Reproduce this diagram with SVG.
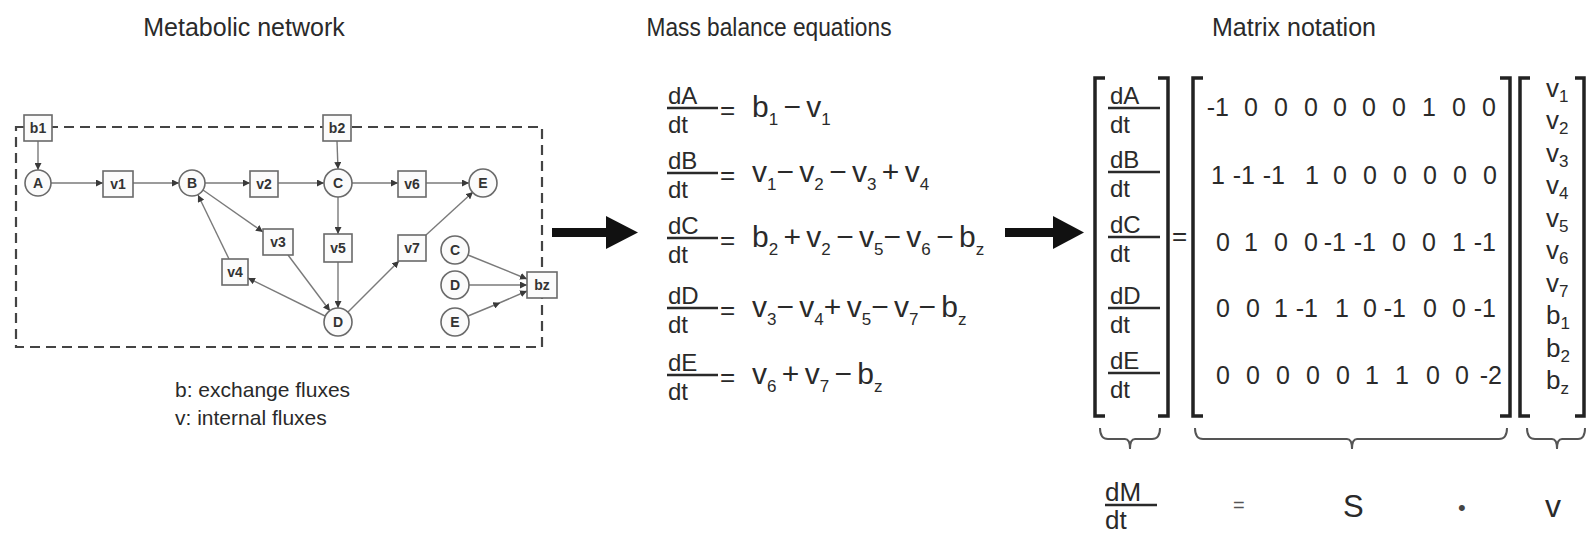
<svg xmlns="http://www.w3.org/2000/svg" width="1587" height="533" viewBox="0 0 1587 533">
<defs>
<style>
text{font-family:"Liberation Sans",Arial,sans-serif;fill:#2a2a2a}
.title{font-size:25px;text-anchor:middle}
.lbl{font-size:21px}
.nt{font-size:14px;font-weight:bold;text-anchor:middle;fill:#333}
.box{fill:#fbfbfb;stroke:#6a6a6a;stroke-width:1.6}
.circ{fill:#fbfbfb;stroke:#6a6a6a;stroke-width:1.6}
.edge{stroke:#7a7a7a;stroke-width:1.4;fill:none;marker-end:url(#ah)}
.frac{font-size:24px}
.bar{stroke:#2a2a2a;stroke-width:2.5}
.rhs{font-size:30px;word-spacing:-3px}
.sub{font-size:17px}
.eq{font-size:26px}
.m{font-size:25px;text-anchor:end}
.vv{font-size:26px}
.brk{fill:none;stroke:#222;stroke-width:3.5}
.brace{fill:none;stroke:#555;stroke-width:2}
.big{fill:#111}
</style>
<marker id="ah" viewBox="0 0 8 8" refX="8" refY="4" markerWidth="7" markerHeight="7" markerUnits="userSpaceOnUse" orient="auto">
<path d="M0,0 L8,4 L0,8 z" fill="#3a3a3a"/>
</marker>
<marker id="am" viewBox="0 0 8 8" refX="4" refY="4" markerWidth="7" markerHeight="7" markerUnits="userSpaceOnUse" orient="auto">
<path d="M0,0 L8,4 L0,8 z" fill="#3a3a3a"/>
</marker>
</defs>
<rect width="1587" height="533" fill="#ffffff"/>

<!-- titles -->
<text class="title" x="244" y="36">Metabolic network</text>
<text class="title" x="769" y="36" textLength="245" lengthAdjust="spacingAndGlyphs">Mass balance equations</text>
<text class="title" x="1294" y="36">Matrix notation</text>

<!-- network boundary -->
<rect x="16" y="127" width="526" height="220" fill="none" stroke="#444" stroke-width="2.2" stroke-dasharray="10 6"/>

<!-- connectors -->
<g id="connectors">
<line class="edge" x1="38" y1="141" x2="38" y2="170"/>
<line class="edge" x1="51" y1="183" x2="103" y2="183"/>
<line class="edge" x1="133" y1="183" x2="179" y2="183"/>
<line class="edge" x1="205" y1="183" x2="250" y2="183"/>
<line class="edge" x1="278" y1="183" x2="324" y2="183"/>
<line class="edge" x1="337" y1="141" x2="338" y2="169"/>
<line class="edge" x1="352" y1="183" x2="398" y2="183"/>
<line class="edge" x1="426" y1="183" x2="469" y2="183"/>
<line class="edge" x1="338" y1="197" x2="338" y2="234"/>
<line class="edge" x1="338" y1="262" x2="338" y2="308"/>
<line class="edge" x1="203" y1="190" x2="263" y2="232"/>
<line class="edge" x1="288" y1="255" x2="330" y2="311"/>
<line class="edge" x1="325" y1="316" x2="248" y2="278"/>
<line class="edge" x1="229" y1="259" x2="198" y2="195"/>
<line class="edge" x1="348" y1="312" x2="399" y2="261"/>
<line class="edge" x1="426" y1="235" x2="473" y2="192"/>
<line class="edge" x1="468" y1="255" x2="527" y2="279"/>
<line class="edge" x1="469" y1="285" x2="527" y2="285"/>
<polyline class="edge" points="468,316 497,304 527,291" style="marker-mid:url(#am)"/>
</g>

<!-- nodes -->
<g id="node-b1"><rect class="box" x="24" y="115" width="28" height="26"/><text class="nt" x="38" y="133">b1</text></g>
<g id="node-b2"><rect class="box" x="323" y="115" width="28" height="26"/><text class="nt" x="337" y="133">b2</text></g>
<g id="node-A"><circle class="circ" cx="38" cy="183" r="13"/><text class="nt" x="38" y="188">A</text></g>
<g id="node-v1"><rect class="box" x="103" y="171" width="30" height="26"/><text class="nt" x="118" y="189">v1</text></g>
<g id="node-B"><circle class="circ" cx="192" cy="183" r="13"/><text class="nt" x="192" y="188">B</text></g>
<g id="node-v2"><rect class="box" x="250" y="171" width="28" height="26"/><text class="nt" x="264" y="189">v2</text></g>
<g id="node-C"><circle class="circ" cx="338" cy="183" r="14"/><text class="nt" x="338" y="188">C</text></g>
<g id="node-v6"><rect class="box" x="398" y="171" width="28" height="26"/><text class="nt" x="412" y="189">v6</text></g>
<g id="node-E"><circle class="circ" cx="483" cy="183" r="14"/><text class="nt" x="483" y="188">E</text></g>
<g id="node-v3"><rect class="box" x="263" y="229" width="30" height="26"/><text class="nt" x="278" y="247">v3</text></g>
<g id="node-v4"><rect class="box" x="222" y="259" width="26" height="26"/><text class="nt" x="235" y="277">v4</text></g>
<g id="node-v5"><rect class="box" x="324" y="234" width="28" height="28"/><text class="nt" x="338" y="253">v5</text></g>
<g id="node-v7"><rect class="box" x="398" y="235" width="28" height="26"/><text class="nt" x="412" y="253">v7</text></g>
<g id="node-D"><circle class="circ" cx="338" cy="322" r="14"/><text class="nt" x="338" y="327">D</text></g>
<g id="node-C2"><circle class="circ" cx="455" cy="250" r="14"/><text class="nt" x="455" y="255">C</text></g>
<g id="node-D2"><circle class="circ" cx="455" cy="285" r="14"/><text class="nt" x="455" y="290">D</text></g>
<g id="node-E2"><circle class="circ" cx="455" cy="322" r="14"/><text class="nt" x="455" y="327">E</text></g>
<g id="node-bz"><rect class="box" x="527" y="272" width="30" height="26"/><text class="nt" x="542" y="290">bz</text></g>

<text class="lbl" x="175" y="397">b: exchange fluxes</text>
<text class="lbl" x="175" y="425">v: internal fluxes</text>

<!-- big arrows -->
<g id="arrow1"><rect class="big" x="552" y="228" width="58" height="9"/><polygon class="big" points="606,216 638,232.5 606,249"/></g>
<g id="arrow2"><rect class="big" x="1005" y="228" width="52" height="9"/><polygon class="big" points="1053,216 1084,232.5 1053,249"/></g>

<!-- equations -->
<g id="equations">
<g id="eqA"><text class="frac" x="668" y="104">dA</text><line class="bar" x1="667" y1="108" x2="718" y2="108"/><text class="frac" x="668" y="133">dt</text>
<text class="eq" x="720" y="119">=</text>
<text class="rhs" x="752" y="117">b<tspan class="sub" dy="8">1</tspan><tspan dy="-8"> − v</tspan><tspan class="sub" dy="8">1</tspan></text></g>
<g id="eqB"><text class="frac" x="668" y="169">dB</text><line class="bar" x1="667" y1="173" x2="718" y2="173"/><text class="frac" x="668" y="198">dt</text>
<text class="eq" x="720" y="184">=</text>
<text class="rhs" x="752" y="182">v<tspan class="sub" dy="8">1</tspan><tspan dy="-8">− v</tspan><tspan class="sub" dy="8">2</tspan><tspan dy="-8"> − v</tspan><tspan class="sub" dy="8">3</tspan><tspan dy="-8"> + v</tspan><tspan class="sub" dy="8">4</tspan></text></g>
<g id="eqC"><text class="frac" x="668" y="234">dC</text><line class="bar" x1="667" y1="238" x2="718" y2="238"/><text class="frac" x="668" y="263">dt</text>
<text class="eq" x="720" y="249">=</text>
<text class="rhs" x="752" y="247">b<tspan class="sub" dy="8">2</tspan><tspan dy="-8"> + v</tspan><tspan class="sub" dy="8">2</tspan><tspan dy="-8"> − v</tspan><tspan class="sub" dy="8">5</tspan><tspan dy="-8">− v</tspan><tspan class="sub" dy="8">6</tspan><tspan dy="-8"> − b</tspan><tspan class="sub" dy="8">z</tspan></text></g>
<g id="eqD"><text class="frac" x="668" y="304">dD</text><line class="bar" x1="667" y1="308" x2="718" y2="308"/><text class="frac" x="668" y="333">dt</text>
<text class="eq" x="720" y="319">=</text>
<text class="rhs" x="752" y="317">v<tspan class="sub" dy="8">3</tspan><tspan dy="-8">− v</tspan><tspan class="sub" dy="8">4</tspan><tspan dy="-8">+ v</tspan><tspan class="sub" dy="8">5</tspan><tspan dy="-8">− v</tspan><tspan class="sub" dy="8">7</tspan><tspan dy="-8">− b</tspan><tspan class="sub" dy="8">z</tspan></text></g>
<g id="eqE"><text class="frac" x="668" y="371">dE</text><line class="bar" x1="667" y1="375" x2="718" y2="375"/><text class="frac" x="668" y="400">dt</text>
<text class="eq" x="720" y="386">=</text>
<text class="rhs" x="752" y="384">v<tspan class="sub" dy="8">6</tspan><tspan dy="-8"> + v</tspan><tspan class="sub" dy="8">7</tspan><tspan dy="-8"> − b</tspan><tspan class="sub" dy="8">z</tspan></text></g>
</g>

<!-- matrix notation -->
<g id="dM-vector">
<path class="brk" d="M1105,78 H1095 V416 H1105"/>
<path class="brk" d="M1158,78 H1168 V416 H1158"/>
<text class="frac" x="1110" y="104">dA</text><line class="bar" x1="1108" y1="108" x2="1160" y2="108"/><text class="frac" x="1110" y="133">dt</text>
<text class="frac" x="1110" y="168">dB</text><line class="bar" x1="1108" y1="172" x2="1160" y2="172"/><text class="frac" x="1110" y="197">dt</text>
<text class="frac" x="1110" y="233">dC</text><line class="bar" x1="1108" y1="237" x2="1160" y2="237"/><text class="frac" x="1110" y="262">dt</text>
<text class="frac" x="1110" y="304">dD</text><line class="bar" x1="1108" y1="308" x2="1160" y2="308"/><text class="frac" x="1110" y="333">dt</text>
<text class="frac" x="1110" y="369">dE</text><line class="bar" x1="1108" y1="373" x2="1160" y2="373"/><text class="frac" x="1110" y="398">dt</text>
</g>
<text class="eq" x="1172" y="245">=</text>
<g id="S-matrix">
<path class="brk" d="M1203,78 H1193 V416 H1203"/>
<path class="brk" d="M1500,78 H1510 V416 H1500"/>
<g id="r1"><text class="m" x="1229" y="116">-1</text><text class="m" x="1258" y="116">0</text><text class="m" x="1288" y="116">0</text><text class="m" x="1318" y="116">0</text><text class="m" x="1347" y="116">0</text><text class="m" x="1376" y="116">0</text><text class="m" x="1406" y="116">0</text><text class="m" x="1436" y="116">1</text><text class="m" x="1466" y="116">0</text><text class="m" x="1496" y="116">0</text></g>
<g id="r2"><text class="m" x="1225" y="184">1</text><text class="m" x="1255" y="184">-1</text><text class="m" x="1285" y="184">-1</text><text class="m" x="1319" y="184">1</text><text class="m" x="1347" y="184">0</text><text class="m" x="1377" y="184">0</text><text class="m" x="1407" y="184">0</text><text class="m" x="1437" y="184">0</text><text class="m" x="1467" y="184">0</text><text class="m" x="1497" y="184">0</text></g>
<g id="r3"><text class="m" x="1230" y="251">0</text><text class="m" x="1258" y="251">1</text><text class="m" x="1288" y="251">0</text><text class="m" x="1318" y="251">0</text><text class="m" x="1346" y="251">-1</text><text class="m" x="1376" y="251">-1</text><text class="m" x="1406" y="251">0</text><text class="m" x="1436" y="251">0</text><text class="m" x="1466" y="251">1</text><text class="m" x="1496" y="251">-1</text></g>
<g id="r4"><text class="m" x="1230" y="317">0</text><text class="m" x="1260" y="317">0</text><text class="m" x="1288" y="317">1</text><text class="m" x="1318" y="317">-1</text><text class="m" x="1349" y="317">1</text><text class="m" x="1377" y="317">0</text><text class="m" x="1406" y="317">-1</text><text class="m" x="1437" y="317">0</text><text class="m" x="1466" y="317">0</text><text class="m" x="1496" y="317">-1</text></g>
<g id="r5"><text class="m" x="1230" y="384">0</text><text class="m" x="1260" y="384">0</text><text class="m" x="1290" y="384">0</text><text class="m" x="1320" y="384">0</text><text class="m" x="1350" y="384">0</text><text class="m" x="1379" y="384">1</text><text class="m" x="1409" y="384">1</text><text class="m" x="1440" y="384">0</text><text class="m" x="1469" y="384">0</text><text class="m" x="1502" y="384">-2</text></g>
</g>
<g id="v-vector">
<path class="brk" d="M1530,78 H1520 V416 H1530"/>
<path class="brk" d="M1575,78 H1584 V416 H1575"/>
<text class="vv" x="1546" y="97">v<tspan class="sub" dy="5">1</tspan></text>
<text class="vv" x="1546" y="129">v<tspan class="sub" dy="5">2</tspan></text>
<text class="vv" x="1546" y="162">v<tspan class="sub" dy="5">3</tspan></text>
<text class="vv" x="1546" y="194">v<tspan class="sub" dy="5">4</tspan></text>
<text class="vv" x="1546" y="227">v<tspan class="sub" dy="5">5</tspan></text>
<text class="vv" x="1546" y="259">v<tspan class="sub" dy="5">6</tspan></text>
<text class="vv" x="1546" y="292">v<tspan class="sub" dy="5">7</tspan></text>
<text class="vv" x="1546" y="324">b<tspan class="sub" dy="5">1</tspan></text>
<text class="vv" x="1546" y="357">b<tspan class="sub" dy="5">2</tspan></text>
<text class="vv" x="1546" y="389">b<tspan class="sub" dy="5">z</tspan></text>
</g>

<!-- braces -->
<g id="braces">
<path class="brace" d="M1100,428 Q1100,439 1108,439 H1125 Q1130,439 1130,449 Q1130,439 1135,439 H1152 Q1160,439 1160,428"/>
<path class="brace" d="M1195,428 Q1195,439 1203,439 H1347 Q1352,439 1352,449 Q1352,439 1357,439 H1499 Q1507,439 1507,428"/>
<path class="brace" d="M1527,428 Q1527,439 1535,439 H1552 Q1557,439 1557,449 Q1557,439 1562,439 H1578 Q1585,439 1585,428"/>
</g>

<g id="summary">
<text style="font-size:26px" x="1105" y="501">dM</text><line class="bar" x1="1105" y1="505" x2="1157" y2="505"/><text style="font-size:26px" x="1105" y="529">dt</text>
<text style="font-size:20px;fill:#555" x="1233" y="512">=</text>
<text style="font-size:31px" x="1343" y="517">S</text>
<text style="font-size:22px;fill:#444" x="1458" y="515">•</text>
<text style="font-size:32px" x="1545" y="517">v</text>
</g>
</svg>
